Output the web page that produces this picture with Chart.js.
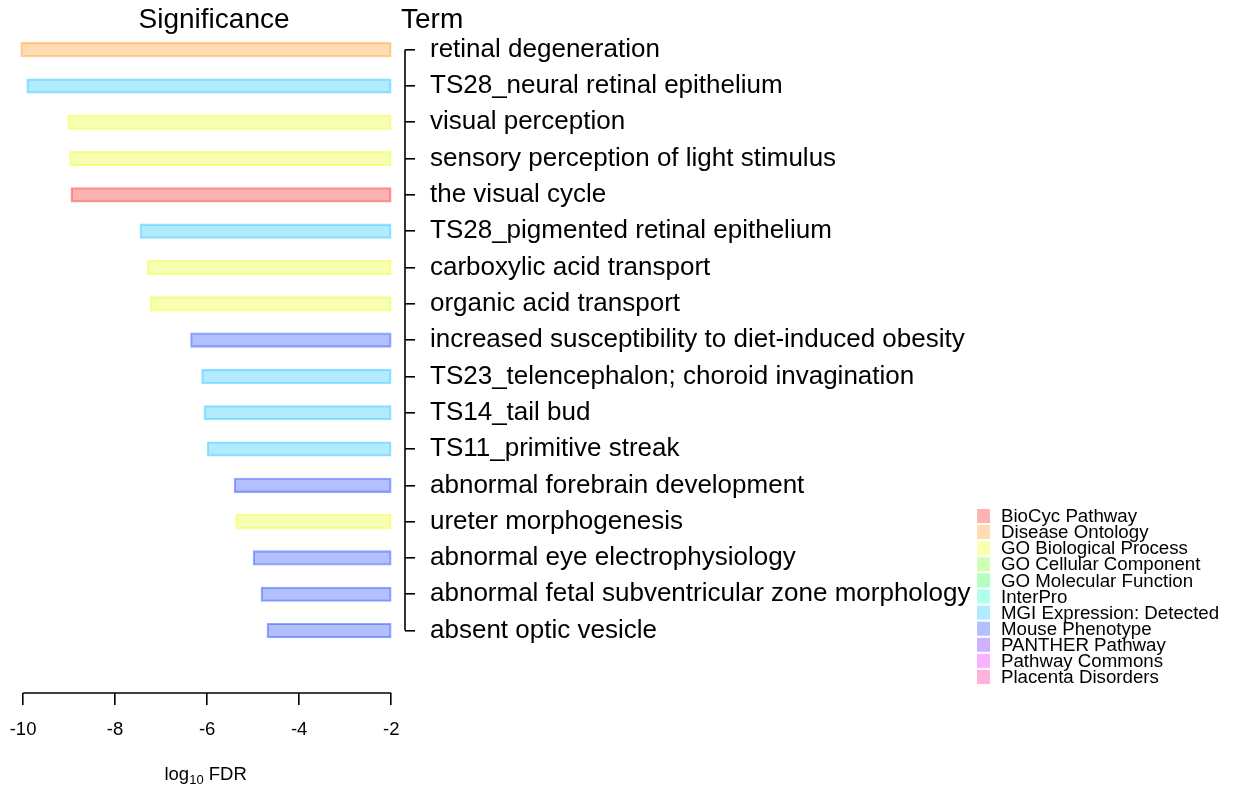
<!DOCTYPE html>
<html>
<head>
<meta charset="utf-8">
<script src="https://cdn.jsdelivr.net/npm/chart.js@4"></script>
<style>
  body { margin: 0; background: #fff; }
  canvas { display: block; }
</style>
</head>
<body>
<canvas id="chart" width="1233" height="786"></canvas>
<script>
// Terms, top to bottom
const terms = [
    'retinal degeneration',
    'TS28_neural retinal epithelium',
    'visual perception',
    'sensory perception of light stimulus',
    'the visual cycle',
    'TS28_pigmented retinal epithelium',
    'carboxylic acid transport',
    'organic acid transport',
    'increased susceptibility to diet-induced obesity',
    'TS23_telencephalon; choroid invagination',
    'TS14_tail bud',
    'TS11_primitive streak',
    'abnormal forebrain development',
    'ureter morphogenesis',
    'abnormal eye electrophysiology',
    'abnormal fetal subventricular zone morphology',
    'absent optic vesicle'
];

// log10 FDR per term
const logFdr = [-10.05, -9.92, -9.03, -8.99, -8.96, -7.46, -7.30, -7.24, -6.36, -6.12, -6.07, -6.00, -5.41, -5.38, -5.00, -4.83, -4.70];

// annotation source per term
const termSource = [
    'Disease Ontology',
    'MGI Expression: Detected',
    'GO Biological Process',
    'GO Biological Process',
    'BioCyc Pathway',
    'MGI Expression: Detected',
    'GO Biological Process',
    'GO Biological Process',
    'Mouse Phenotype',
    'MGI Expression: Detected',
    'MGI Expression: Detected',
    'MGI Expression: Detected',
    'Mouse Phenotype',
    'GO Biological Process',
    'Mouse Phenotype',
    'Mouse Phenotype',
    'Mouse Phenotype'
];

// legend categories and their base colours
const sourceNames = [
    'BioCyc Pathway', 'Disease Ontology', 'GO Biological Process', 'GO Cellular Component',
    'GO Molecular Function', 'InterPro', 'MGI Expression: Detected', 'Mouse Phenotype',
    'PANTHER Pathway', 'Pathway Commons', 'Placenta Disorders'
];
const sourceRgb = [
    '255,0,0', '255,139,0', '232,255,0', '93,255,0', '0,255,46', '0,255,185',
    '0,185,255', '0,46,255', '93,0,255', '232,0,255', '255,0,139'
];

// x axis ticks and the bar base
const xTicks = [-10, -8, -6, -4, -2];
const barBase = -2;

const FONT = "'Liberation Sans', Arial, sans-serif";

function rgbFor(name) {
    return sourceRgb[sourceNames.indexOf(name)];
}

function noPadding(s) {
    s.paddingTop = 0;
    s.paddingBottom = 0;
    s.paddingLeft = 0;
    s.paddingRight = 0;
}

// headers, axis line, bracket, axis title and legend
const decor = {
    id: 'decor',
    afterDraw(chart) {
        const { ctx, chartArea, scales: { x, y } } = chart;
        ctx.save();
        ctx.strokeStyle = '#000';
        ctx.lineWidth = 1.6;

        // x axis line from first to last tick
        ctx.beginPath();
        ctx.moveTo(x.getPixelForValue(xTicks[0]), chartArea.bottom);
        ctx.lineTo(x.getPixelForValue(xTicks[xTicks.length - 1]), chartArea.bottom);
        ctx.stroke();

        // bracket spine
        ctx.beginPath();
        ctx.moveTo(chartArea.right, y.getPixelForValue(0));
        ctx.lineTo(chartArea.right, y.getPixelForValue(terms.length - 1));
        ctx.stroke();

        // column headers
        ctx.fillStyle = '#000';
        ctx.textBaseline = 'alphabetic';
        ctx.font = '28px ' + FONT;
        ctx.textAlign = 'center';
        ctx.fillText('Significance', x.getPixelForValue(-5.85), 28);
        ctx.textAlign = 'left';
        ctx.fillText('Term', chartArea.right - 4, 28);

        // axis title: log10 FDR with subscript
        const big = '18.5px ' + FONT, small = '13px ' + FONT;
        ctx.font = big;
        const w1 = ctx.measureText('log').width;
        const w3 = ctx.measureText(' FDR').width;
        ctx.font = small;
        const w2 = ctx.measureText('10').width;
        let tx = x.getPixelForValue(-6) - 1.5 - (w1 + w2 + w3) / 2;
        const base = 780;
        ctx.font = big;
        ctx.fillText('log', tx, base);
        tx += w1;
        ctx.font = small;
        ctx.fillText('10', tx, base + 4);
        tx += w2;
        ctx.font = big;
        ctx.fillText(' FDR', tx, base);

        // legend
        ctx.font = '18.7px ' + FONT;
        ctx.textBaseline = 'middle';
        sourceNames.forEach((name, i) => {
            const cy = 516 + i * 16.1;
            ctx.fillStyle = 'rgba(' + sourceRgb[i] + ',0.3)';
            ctx.fillRect(977, cy - 7, 13, 14);
            ctx.fillStyle = '#000';
            ctx.fillText(name, 1001, cy + 1);
        });
        ctx.restore();
    }
};

new Chart(document.getElementById('chart'), {
    type: 'bar',
    data: {
        datasets: [{
            data: logFdr.map((v, i) => ({ x: [v, barBase], y: i })),
            backgroundColor: termSource.map(s => 'rgba(' + rgbFor(s) + ',0.3)'),
            borderColor: termSource.map(s => 'rgba(' + rgbFor(s) + ',0.42)'),
            borderWidth: 1.4,
            borderSkipped: false,
            barThickness: 14.5
        }]
    },
    options: {
        indexAxis: 'y',
        responsive: false,
        animation: false,
        layout: { padding: { left: 18, top: 31.5, right: 228, bottom: 0 } },
        plugins: {
            legend: { display: false },
            tooltip: { enabled: false }
        },
        scales: {
            x: {
                type: 'linear',
                min: -10.11,
                max: -1.7,
                afterBuildTicks: s => { s.ticks = xTicks.map(v => ({ value: v })); },
                afterFit: s => { s.height = 93; noPadding(s); },
                grid: {
                    drawOnChartArea: false,
                    drawTicks: true,
                    tickLength: 12,
                    color: '#000',
                    lineWidth: 1.6
                },
                border: { display: false },
                ticks: {
                    color: '#000',
                    padding: 14,
                    font: { family: FONT, size: 18.5 },
                    maxRotation: 0
                }
            },
            y: {
                type: 'linear',
                position: 'right',
                reverse: true,
                offset: false,
                min: -0.5,
                max: 17.72,
                afterBuildTicks: s => { s.ticks = terms.map((t, i) => ({ value: i })); },
                afterFit: s => { s.width = 600; noPadding(s); },
                grid: {
                    offset: false,
                    drawOnChartArea: false,
                    drawTicks: true,
                    tickLength: 10,
                    color: '#000',
                    lineWidth: 1.6
                },
                border: { display: false },
                ticks: {
                    color: '#000',
                    padding: 15,
                    font: { family: FONT, size: 26 },
                    callback: v => terms[v]
                }
            }
        }
    },
    plugins: [decor]
});
</script>
</body>
</html>
